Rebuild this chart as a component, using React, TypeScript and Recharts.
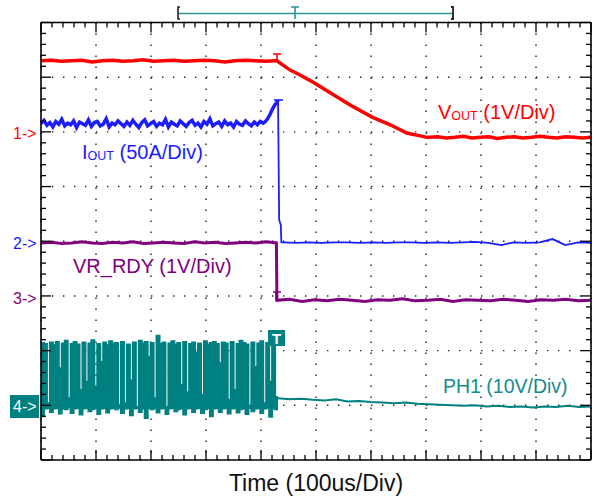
import React from 'react';
import { ComposedChart, XAxis, YAxis, CartesianGrid, Line, Area } from 'recharts';

const W = 597;
const H = 497;
const PLOT = { left: 41, top: 22.5, right: 591, bottom: 460 };
const FONT = '"Liberation Sans", Arial, sans-serif';

const RED = '#ff0000';
const BLUE = '#1c1cff';
const PURPLE = '#800080';
const TEAL = '#008080';

// scope divisions (10 x 8), minor ticks every 1/5 div
const DIV_X = [0, 1, 2, 3, 4, 5, 6, 7, 8, 9, 10];
const DIV_Y = [0, 1, 2, 3, 4, 5, 6, 7, 8];
const minorTicks = (n: number) => Array.from({ length: n * 5 + 1 }, (_, i) => i / 5);
const MINOR_X = minorTicks(10);
const MINOR_Y = minorTicks(8);

// CH1 VOUT, in divisions from bottom of screen
const VOUT_PRE = [7.3, 7.31, 7.29, 7.3, 7.31, 7.28, 7.3, 7.31, 7.29, 7.3, 7.32, 7.29, 7.3, 7.31, 7.29, 7.3, 7.31, 7.3, 7.28, 7.3, 7.31, 7.3, 7.29, 7.3];
const VOUT_RAMP_T = [4.29, 4.4, 4.53, 4.71, 4.98, 5.25, 5.62, 6.02, 6.35, 6.65, 7.02];
const VOUT_RAMP = [7.3, 7.22, 7.13, 7.04, 6.89, 6.72, 6.49, 6.27, 6.13, 5.98, 5.9];
const VOUT_POST = [5.9, 5.91, 5.89, 5.9, 5.92, 5.89, 5.9, 5.91, 5.88, 5.9, 5.91, 5.89, 5.9, 5.92, 5.9, 5.89, 5.91, 5.9, 5.89, 5.9];

// CH2 IOUT
const IOUT_PRE = [
  6.15, 6.21, 6.12, 6.17, 6.09, 6.19, 6.14, 6.23, 6.11, 6.16,
  6.13, 6.2, 6.08, 6.18, 6.15, 6.12, 6.22, 6.1, 6.17, 6.19,
  6.11, 6.14, 6.24, 6.09, 6.16, 6.13, 6.2, 6.15, 6.1, 6.18,
  6.12, 6.21, 6.14, 6.08, 6.17, 6.22, 6.11, 6.15, 6.19, 6.1,
  6.16, 6.13, 6.23, 6.09, 6.18, 6.14, 6.11, 6.2, 6.15, 6.1,
  6.17, 6.21, 6.12, 6.16, 6.09, 6.19, 6.14, 6.24, 6.11, 6.15,
  6.18, 6.1, 6.2, 6.13, 6.16, 6.09, 6.19, 6.14, 6.12, 6.2,
  6.15, 6.11, 6.18, 6.13, 6.19, 6.16,
];
const IOUT_RISE_T = [4.07, 4.12, 4.17, 4.21, 4.25, 4.29, 4.31];
const IOUT_RISE = [6.18, 6.24, 6.33, 6.42, 6.49, 6.54, 6.58];
const IOUT_DROP_T = [4.31, 4.33, 4.36, 4.37];
const IOUT_DROP = [6.58, 4.39, 4.3, 3.98];
const IOUT_POST = [3.98, 3.97, 3.98, 3.97, 3.98, 3.98, 3.97, 3.98, 3.97, 3.98, 3.98, 3.97, 3.98, 3.97, 3.98, 3.99, 3.97, 3.93, 3.98, 3.97, 3.98, 4.04, 3.93, 3.98, 3.97];

// CH3 VR_RDY
const VRRDY_PRE = [3.97, 3.98, 3.96, 3.97, 3.99, 3.97, 3.96, 3.98, 3.97, 3.99, 3.96, 3.97, 3.98, 3.97, 3.96, 3.99, 3.97, 3.98, 3.96, 3.97, 3.98, 3.97, 3.99, 3.97];
const VRRDY_POST = [2.92, 2.94, 2.9, 2.93, 2.91, 2.94, 2.92, 2.9, 2.93, 2.92, 2.95, 2.91, 2.92, 2.94, 2.9, 2.93, 2.92, 2.91, 2.94, 2.92, 2.9, 2.93, 2.92, 2.94, 2.91, 2.92];

// CH4 PH1 switching envelope (one sample per step) then idle level
const SW_HI = [2.14, 2.12, 1.04, 2.15, 2.1, 2.16, 1.68, 2.13, 2.18, 1.13, 2.12, 2.16, 2.11, 1.28, 2.15, 1.43, 2.13, 2.19, 1.33, 2.12, 1.79, 2.15, 2.1, 2.17, 2.13, 2.14, 1.01, 2.16, 1.04, 2.11, 1.46, 2.15, 0.97, 2.18, 2.13, 2.16, 1.88, 2.14, 1.13, 2.27, 2.12, 2.15, 0.97, 2.13, 2.17, 2.11, 2.14, 1.37, 2.16, 1.24, 2.12, 2.15, 1.96, 2.13, 1.19, 2.17, 2.11, 2.14, 2.16, 2.12, 1.77, 2.15, 2.13, 1.1, 2.16, 1.28, 2.12, 2.18, 2.14, 2.11, 0.99, 2.15, 1.7, 2.13, 2.17, 1.04, 2.14, 1.43, 2.2, 1.15];
const SW_LO = [0.8, 0.94, 0.95, 0.88, 0.94, 0.95, 0.85, 0.94, 0.93, 0.96, 0.86, 0.94, 0.95, 0.83, 0.94, 0.95, 0.89, 0.93, 0.95, 0.84, 0.94, 0.95, 0.87, 0.94, 0.95, 0.93, 0.95, 0.86, 0.94, 0.95, 0.82, 0.94, 0.95, 0.88, 0.94, 0.77, 0.95, 0.93, 0.95, 0.87, 0.94, 0.95, 0.84, 0.94, 0.95, 0.89, 0.93, 0.95, 0.83, 0.94, 0.95, 0.88, 0.94, 0.95, 0.86, 0.93, 0.95, 0.8, 0.94, 0.95, 0.88, 0.94, 0.95, 0.85, 0.94, 0.95, 0.87, 0.93, 0.95, 0.84, 0.95, 0.89, 0.94, 0.95, 0.86, 0.94, 0.95, 0.79, 0.94, 0.93];
const SW_T0 = 0.0;
const SW_T1 = 4.31;
const PH1_POST = [1.13, 1.11, 1.12, 1.1, 1.09, 1.11, 1.07, 1.08, 1.06, 1.05, 1.04, 1.05, 1.03, 1.02, 1.01, 1.0, 0.99, 1.0, 0.98, 0.99, 0.97, 0.98, 0.96, 0.98, 0.97, 0.99, 0.97, 0.98];

type Pt = { t: number; v: number };
const sampled = (t0: number, t1: number, vals: number[]): Pt[] =>
  vals.map((v, i) => ({ t: t0 + ((t1 - t0) * i) / (vals.length - 1), v }));
const zip = (ts: number[], vs: number[]): Pt[] => ts.map((t, i) => ({ t, v: vs[i] }));

const VOUT_DATA = [...sampled(0, 4.27, VOUT_PRE), ...zip(VOUT_RAMP_T, VOUT_RAMP), ...sampled(7.06, 10, VOUT_POST)];
const IOUT_BUSY = [...sampled(0, 4.04, IOUT_PRE), ...zip(IOUT_RISE_T, IOUT_RISE)];
const IOUT_IDLE = [...zip(IOUT_DROP_T, IOUT_DROP), ...sampled(4.4, 10, IOUT_POST)];
const VRRDY_DATA = [...sampled(0, 4.28, VRRDY_PRE), ...sampled(4.29, 10, VRRDY_POST)];
const PH1_DATA = sampled(4.31, 10, PH1_POST);
// one extra closing sample so the last step has width
const SWITCH_DATA = [...SW_HI, SW_HI[SW_HI.length - 1]].map((hi, i) => ({
  t: SW_T0 + ((SW_T1 - SW_T0) * i) / SW_HI.length,
  range: [SW_LO[Math.min(i, SW_LO.length - 1)], hi],
}));

const isMajor = (v: number) => Math.abs(v - Math.round(v)) < 1e-6;

const xTick = (edge: number, dir: number) => (props: any) => {
  const x = props.payload.coordinate;
  const len = isMajor(props.payload.value) ? 10 : 5;
  return <line x1={x} x2={x} y1={edge} y2={edge + dir * len} stroke="#000" strokeWidth={1.3} />;
};
const yTick = (edge: number, dir: number) => (props: any) => {
  const y = props.payload.coordinate;
  const len = isMajor(props.payload.value) ? 10 : 5;
  return <line x1={edge} x2={edge + dir * len} y1={y} y2={y} stroke="#000" strokeWidth={1.3} />;
};

const frameLine = { stroke: '#000', strokeWidth: 1.6 };

const Overlay = () => (
  <svg width={W} height={H} style={{ position: 'absolute', left: 0, top: 0, pointerEvents: 'none' }} fontFamily={FONT}>
    {/* trigger position bar */}
    <line x1={178} x2={453} y1={13.5} y2={13.5} stroke="#2e9494" strokeWidth={1.6} />
    <path d="M180 7 H178 V19 H180" stroke="#222" strokeWidth={1.6} fill="none" />
    <path d="M451 7 H453 V19 H451" stroke="#222" strokeWidth={1.8} fill="none" />
    <path d="M291 7 H299 M295 7 V19" stroke="#2e9494" strokeWidth={1.6} fill="none" />

    {/* trace trigger caps */}
    <path d="M273 54 H281 M277 54 V61" stroke={RED} strokeWidth={1.6} fill="none" />
    <path d="M274 100 H283" stroke={BLUE} strokeWidth={1.6} fill="none" />
    <path d="M273 292 H281 M276 292 V300" stroke={PURPLE} strokeWidth={1.6} fill="none" />

    {/* ground markers */}
    <text x={13} y={139} fontSize={16} fill={RED}>1-&gt;</text>
    <text x={13} y={248.5} fontSize={16} fill={BLUE}>2-&gt;</text>
    <text x={13} y={303.5} fontSize={16} fill={PURPLE}>3-&gt;</text>
    <rect x={10} y={395} width={29} height={23} fill={TEAL} />
    <text x={13} y={412} fontSize={16} fill="#fff">4-&gt;</text>

    {/* trigger T box */}
    <rect x={268} y={330} width={17} height={16} fill={TEAL} />
    <text x={276.5} y={344} fontSize={15} fontWeight="bold" fill="#fff" textAnchor="middle">T</text>

    {/* channel labels */}
    <text x={438} y={118.5} fontSize={20} fill={RED}>
      V<tspan fontSize={12.5} dy={1}>OUT</tspan>
      <tspan fontSize={20} dy={-1}> (1V/Div)</tspan>
    </text>
    <text x={82} y={158.5} fontSize={20} fill={BLUE}>
      I<tspan fontSize={12.5} dy={1}>OUT</tspan>
      <tspan fontSize={20} dy={-1}> (50A/Div)</tspan>
    </text>
    <text x={73} y={273.3} fontSize={20} fill={PURPLE}>VR_RDY (1V/Div)</text>
    <text x={443} y={393} fontSize={19.5} fill="#148c8c">PH1 (10V/Div)</text>

    <text x={316} y={490.5} fontSize={23} fill="#111" textAnchor="middle">Time (100us/Div)</text>
  </svg>
);

const App = () => {
  return (
    <div style={{ position: 'absolute', left: 0, top: 0, width: W, height: H, background: '#fff' }}>
      <ComposedChart
        width={W}
        height={H}
        data={SWITCH_DATA}
        margin={{ top: PLOT.top - 1, left: PLOT.left - 1, right: W - PLOT.right - 1, bottom: H - PLOT.bottom - 1 }}
      >
        <CartesianGrid stroke="#222" strokeWidth={1.4} strokeDasharray="1.4 9.6" />
        <XAxis dataKey="t" type="number" domain={[0, 10]} ticks={DIV_X} hide height={0} allowDataOverflow />
        <YAxis type="number" domain={[0, 8]} ticks={DIV_Y} hide width={0} allowDataOverflow />

        <XAxis xAxisId="bottom" dataKey="t" type="number" domain={[0, 10]} ticks={MINOR_X} interval={0} height={1} allowDataOverflow
          orientation="bottom" axisLine={frameLine} tickLine={false} tick={xTick(PLOT.bottom, -1)} />
        <XAxis xAxisId="top" dataKey="t" type="number" domain={[0, 10]} ticks={MINOR_X} interval={0} height={1} allowDataOverflow
          orientation="top" axisLine={frameLine} tickLine={false} tick={xTick(PLOT.top, 1)} />
        <YAxis yAxisId="left" type="number" domain={[0, 8]} ticks={MINOR_Y} interval={0} width={1} allowDataOverflow
          orientation="left" axisLine={frameLine} tickLine={false} tick={yTick(PLOT.left, 1)} />
        <YAxis yAxisId="right" type="number" domain={[0, 8]} ticks={MINOR_Y} interval={0} width={1} allowDataOverflow
          orientation="right" axisLine={frameLine} tickLine={false} tick={yTick(PLOT.right, -1)} />

        <Area dataKey="range" type="stepAfter" fill={TEAL} fillOpacity={1} stroke={TEAL} strokeWidth={2} isAnimationActive={false} />
        <Line data={PH1_DATA} dataKey="v" type="linear" stroke={TEAL} strokeWidth={2} dot={false} isAnimationActive={false} />
        <Line data={VRRDY_DATA} dataKey="v" type="linear" stroke={PURPLE} strokeWidth={3} dot={false} isAnimationActive={false} />
        <Line data={IOUT_IDLE} dataKey="v" type="linear" stroke={BLUE} strokeWidth={1.8} dot={false} isAnimationActive={false} />
        <Line data={IOUT_BUSY} dataKey="v" type="linear" stroke={BLUE} strokeWidth={3.5} dot={false} isAnimationActive={false} />
        <Line data={VOUT_DATA} dataKey="v" type="linear" stroke={RED} strokeWidth={3.5} dot={false} isAnimationActive={false} />
      </ComposedChart>
      <Overlay />
    </div>
  );
};

export default App;
